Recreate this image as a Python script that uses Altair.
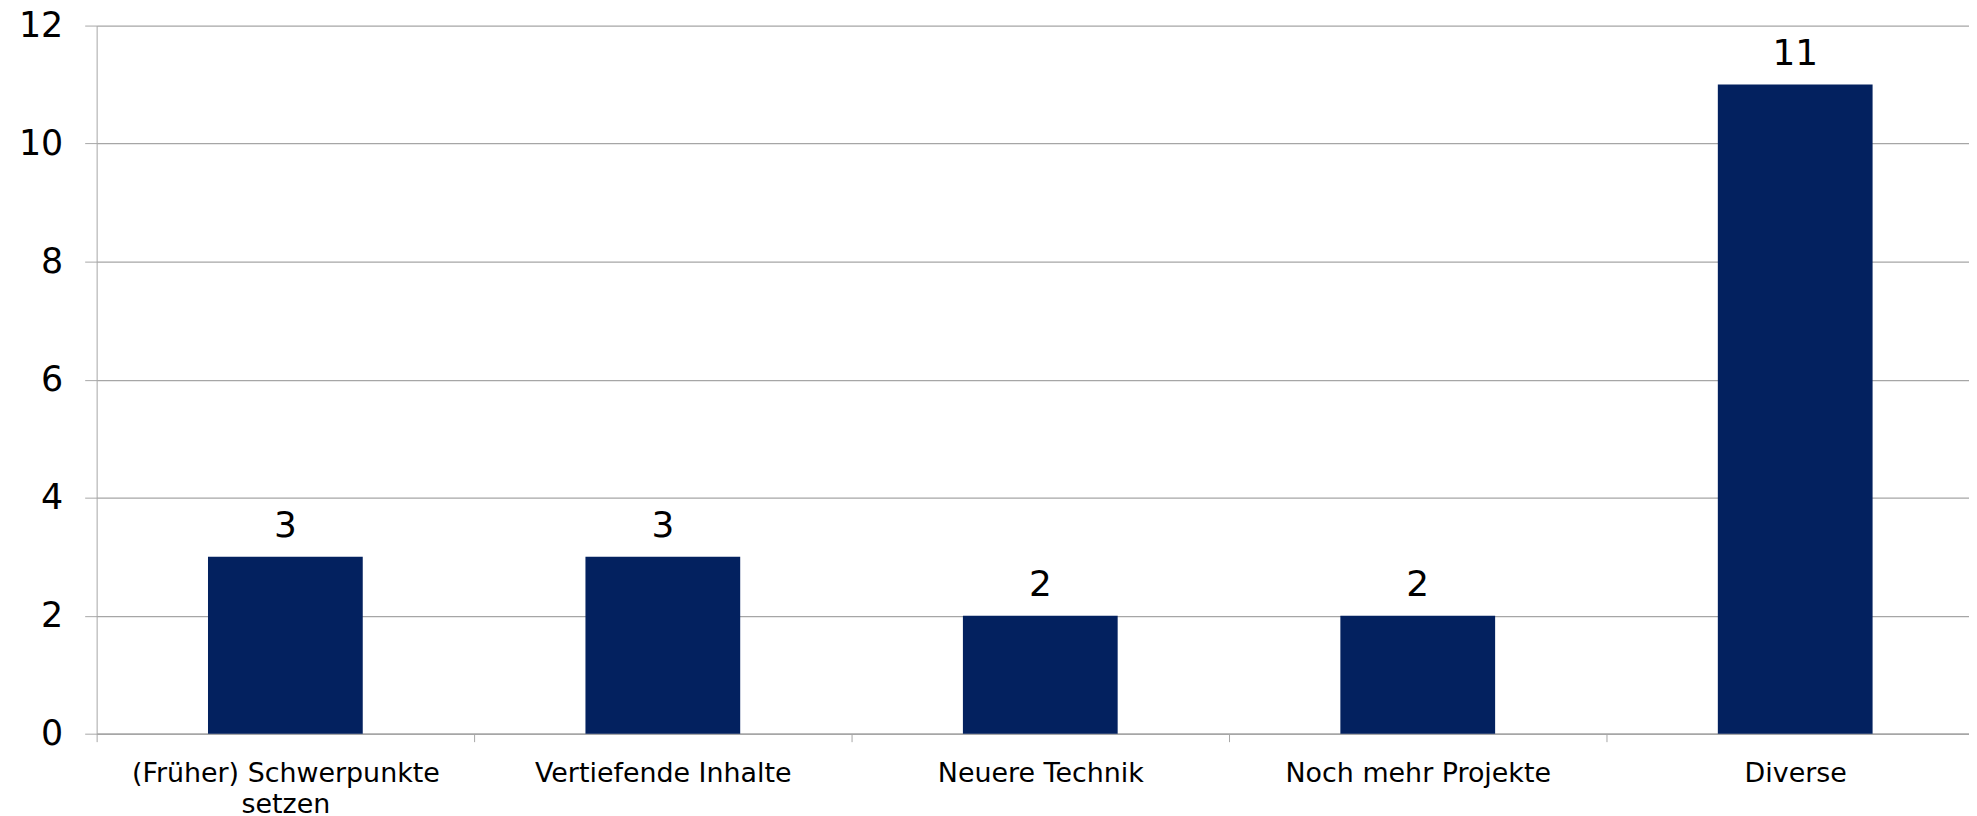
import altair as alt
import pandas as pd

categories = ["(Früher) Schwerpunkte\nsetzen", "Vertiefende Inhalte", "Neuere Technik",
              "Noch mehr Projekte", "Diverse"]
values = [3, 3, 2, 2, 11]
y_ticks = [0, 2, 4, 6, 8, 10, 12]

df = pd.DataFrame({"cat": categories, "val": values})

FONT = "DejaVu Sans"
GRID = "#a6a6a6"
BAR = "#03215f"

x_enc = alt.X(
    "cat:N",
    sort=categories,
    title=None,
    scale=alt.Scale(paddingInner=0, paddingOuter=0, range=[0, 1895]),
    axis=alt.Axis(
        labelAngle=0,
        labelFont=FONT,
        labelFontSize=27,
        labelColor="#000000",
        labelPadding=19,
        labelLineHeight=31,
        labelExpr="split(datum.label, '\\n')",
        labelLimit=600,
        tickBand="extent",
        tickSize=8,
        tickColor=GRID,
        domainColor=GRID,
        domainWidth=1.5,
        grid=False,
    ),
)

y_enc = alt.Y(
    "val:Q",
    title=None,
    scale=alt.Scale(domain=[0, 12], nice=False),
    axis=alt.Axis(
        values=y_ticks,
        format="d",
        labelFont=FONT,
        labelFontSize=35,
        labelColor="#000000",
        labelPadding=22,
        tickSize=12,
        tickColor=GRID,
        domainColor=GRID,
        grid=True,
        gridColor=GRID,
        gridWidth=1.2,
    ),
)

bars = alt.Chart(df).mark_bar(
    color=BAR, width=alt.RelativeBandSize(0.41)
).encode(x=x_enc, y=y_enc)

labels = alt.Chart(df).mark_text(
    font=FONT, fontSize=36, color="#000000", baseline="alphabetic", dy=-20
).encode(
    x=alt.X("cat:N", sort=categories),
    y=alt.Y("val:Q"),
    text=alt.Text("val:Q"),
)

chart = (
    alt.layer(bars, labels)
    .properties(
        width=1880,
        height=711,
        autosize=alt.AutoSizeParams(type="none"),
        padding={"left": 89, "top": 16, "right": 0, "bottom": 81},
        background="white",
    )
    .configure_view(stroke=None)
)

chart.save("out.html", embed_options={"renderer": "svg", "actions": False})
